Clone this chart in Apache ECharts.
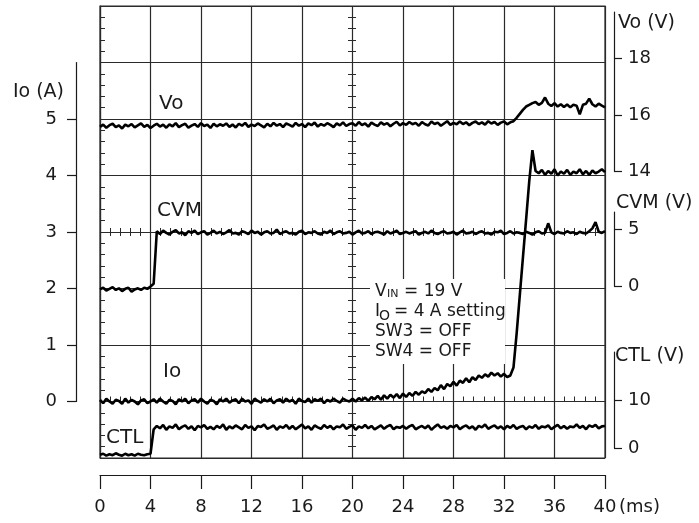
<!DOCTYPE html>
<html>
<head>
<meta charset="utf-8">
<title>Start-up waveforms</title>
<script src="https://cdn.jsdelivr.net/npm/echarts/dist/echarts.min.js"></script>
<style>
html,body{margin:0;padding:0;background:#fff}
#main{width:699px;height:523px}
</style>
</head>
<body>
<div id="main"></div>
<script>
// sample times in ms, one every 0.25 ms
const T = Array.from({length: 161}, (_, i) => i * 0.25);

// Vo (V)
const voData = [
  15.58,15.66,15.55,15.64,15.69,15.57,15.63,15.52,15.66,15.60,15.68,15.56,15.63,15.70,15.58,15.65,15.54,15.62,15.69,15.59,
  15.66,15.55,15.67,15.60,15.71,15.57,15.64,15.69,15.55,15.62,15.68,15.58,15.71,15.61,15.66,15.54,15.69,15.60,15.67,15.62,
  15.70,15.58,15.66,15.56,15.69,15.62,15.72,15.58,15.66,15.61,15.70,15.63,15.56,15.69,15.60,15.72,15.62,15.68,15.57,15.70,
  15.65,15.59,15.72,15.62,15.68,15.57,15.70,15.64,15.73,15.59,15.68,15.62,15.71,15.65,15.57,15.70,15.63,15.74,15.61,15.68,
  15.71,15.62,15.75,15.64,15.70,15.59,15.73,15.66,15.61,15.74,15.66,15.71,15.60,15.69,15.76,15.63,15.71,15.65,15.75,15.67,
  15.72,15.62,15.75,15.67,15.63,15.77,15.68,15.73,15.62,15.70,15.78,15.65,15.72,15.67,15.77,15.68,15.74,15.64,15.72,15.77,
  15.68,15.74,15.66,15.78,15.70,15.75,15.65,15.73,15.77,15.67,15.74,
  15.78,15.90,16.04,16.18,16.30,16.36,16.42,16.46,16.36,16.43,
  16.62,16.40,16.32,16.42,16.30,16.38,16.28,16.37,16.27,16.36,
  16.33,16.02,16.36,16.40,16.58,16.38,16.30,16.40,16.33,16.27
];

// CVM (V)
const cvmData = [
  -0.30,-0.15,-0.40,-0.25,-0.10,-0.35,-0.20,-0.45,-0.25,-0.15,-0.50,-0.30,-0.20,-0.35,-0.15,-0.25,-0.05,0.20,
  4.85,4.60,4.90,4.70,4.55,4.80,4.95,4.65,4.75,4.50,4.85,4.70,4.90,4.60,4.75,4.85,4.55,4.70,4.90,4.65,
  4.80,4.60,4.75,4.95,4.65,4.70,4.55,4.85,4.75,4.60,4.90,4.70,4.80,4.55,4.75,4.85,4.65,4.70,5.00,4.60,
  4.75,4.85,4.65,4.70,4.55,4.80,4.90,4.60,4.75,4.70,4.85,4.65,4.55,4.80,4.70,4.90,4.60,4.75,4.85,4.65,
  4.70,4.80,4.55,4.75,4.90,4.65,4.70,4.85,4.60,4.75,4.80,4.70,4.55,4.85,4.65,4.75,4.90,4.60,4.70,4.80,
  4.65,4.75,4.85,4.55,4.70,4.80,4.65,4.90,4.70,4.60,4.75,4.85,4.65,4.70,4.80,4.55,4.75,4.90,4.65,4.70,
  4.80,4.60,4.75,4.85,4.65,4.70,4.55,4.80,4.75,4.90,4.60,4.70,4.85,4.65,4.75,4.70,4.60,4.80,4.70,4.55,
  4.75,4.85,4.65,4.70,5.55,4.75,4.60,4.80,4.70,4.65,4.85,4.70,4.75,4.60,4.80,4.70,4.65,4.85,5.10,5.65,
  4.80,4.70,4.85
];

// Io (A)
const ioData = [
  0.03,-0.03,0.05,0.00,-0.04,0.03,0.01,-0.04,0.05,-0.02,0.03,0.00,-0.05,0.02,0.04,-0.03,0.00,0.04,-0.02,0.05,
  0.00,-0.04,0.03,0.01,-0.05,0.04,0.00,0.05,-0.03,0.02,0.04,-0.02,0.05,0.00,-0.04,0.03,0.01,-0.05,0.04,0.00,
  0.05,-0.02,0.02,0.04,-0.03,0.05,0.00,0.02,-0.04,0.05,0.01,-0.02,0.04,0.00,0.05,-0.03,0.02,0.04,-0.02,0.05,
  0.00,0.03,-0.04,0.05,0.01,-0.01,0.05,-0.02,0.04,0.01,0.05,-0.03,0.03,0.00,0.05,0.01,-0.02,0.05,0.02,0.00,
  0.05,0.00,0.06,0.02,0.07,0.01,0.08,0.04,0.10,0.03,0.11,0.05,0.12,0.07,0.13,0.06,0.14,0.08,0.15,0.10,
  0.17,0.12,0.18,0.15,0.22,0.17,0.24,0.20,0.29,0.22,0.31,0.27,0.35,0.28,0.37,0.33,0.41,0.34,0.43,0.38,
  0.46,0.42,0.48,0.44,0.51,0.46,0.50,0.44,0.49,0.43,0.46,
  0.60,1.20,1.88,2.55,3.22,3.90,4.45,4.08,
  4.04,4.10,4.01,4.08,4.03,4.11,4.00,4.07,4.03,4.10,4.01,4.07,4.04,4.11,4.02,4.08,4.01,4.09,4.04,4.07,4.11,4.06
];

// CTL (V)
const ctlData = [
  -1.4,-1.2,-1.6,-1.3,-1.5,-1.1,-1.4,-1.6,-1.2,-1.5,-1.3,-1.6,-1.2,-1.4,-1.5,-1.3,-1.2,
  3.9,4.6,4.1,4.8,3.8,4.5,4.2,4.9,3.9,4.4,4.7,4.0,4.5,3.7,4.6,4.3,4.8,4.0,4.4,3.9,
  4.6,4.2,4.9,3.8,4.5,4.1,4.7,4.3,3.9,4.8,4.2,4.5,3.7,4.6,4.4,4.9,4.0,4.3,4.7,3.8,
  4.5,4.2,4.8,4.0,4.6,3.9,4.4,4.9,4.1,4.5,3.8,4.7,4.3,4.0,4.8,4.2,4.6,3.9,4.5,4.3,
  4.9,4.0,4.4,4.7,3.8,4.5,4.2,4.8,4.1,4.6,3.9,4.3,4.7,4.0,4.5,4.8,3.9,4.4,4.2,4.6,
  4.0,4.5,4.8,3.9,4.3,4.6,4.1,4.7,3.8,4.4,4.9,4.2,4.5,4.0,4.6,4.3,4.8,3.9,4.4,4.7,
  4.1,4.5,3.8,4.6,4.3,4.9,4.0,4.4,4.7,4.1,4.5,3.9,4.6,4.2,4.8,4.0,4.4,4.6,3.9,4.5,
  4.2,4.8,4.0,4.5,4.3,4.7,3.9,4.4,4.8,4.1,4.6,4.0,4.5,4.3,4.9,4.2,4.6,3.9,4.7,4.4,
  4.8,4.1,4.5,4.6
];

// tick labels
const timeTicks = [0, 4, 8, 12, 16, 20, 24, 28, 32, 36, 40];
const ioTicks = [0, 1, 2, 3, 4, 5];
const voTicks = [14, 16, 18];
const cvmTicks = [0, 5];
const ctlTicks = [0, 10];

const FONT = "'DejaVu Sans', sans-serif";
const INK = '#1a1a1a';
const GRIDC = '#2a2a2a';

const chart = echarts.init(document.getElementById('main'));

function hiddenX(g) { return {gridIndex: g, type: 'value', show: false, min: 0, max: 1}; }
function hiddenY(g) { return {gridIndex: g, type: 'value', show: false, min: 0, max: 1}; }

// scope-style minor ticks (5 per division)
function minorAxis(g, pos, min, max, interval) {
  return {
    gridIndex: g, type: 'value', position: pos, min: min, max: max, interval: interval,
    axisLine: {show: false},
    axisTick: {show: true, inside: true, length: 4, lineStyle: {color: GRIDC, width: 1}},
    minorTick: {show: true, splitNumber: 5, length: 4, lineStyle: {color: GRIDC, width: 1}},
    axisLabel: {show: false},
    splitLine: {show: false}
  };
}

// short side scales drawn next to the plot
function sideAxis(g, pos, min, max, ticks, tickLen, margin) {
  return {
    gridIndex: g, type: 'value', position: pos, min: min, max: max,
    axisLine: {show: true, lineStyle: {color: INK, width: 1.2}},
    axisTick: {show: true, length: tickLen, customValues: ticks, lineStyle: {color: INK, width: 1.2}},
    axisLabel: {show: true, customValues: ticks, margin: margin, fontSize: 18, fontFamily: FONT, color: INK},
    splitLine: {show: false}
  };
}

const lineBase = {
  type: 'line', showSymbol: false, symbol: 'none', animation: false,
  lineStyle: {color: '#000', width: 2.6}, z: 3
};

function label(text, x, y, size, align) {
  return {type: 'text', x: x, y: y, z: 60,
    style: {text: text, fontSize: size, fontFamily: FONT, fill: INK, align: align || 'left', verticalAlign: 'middle'}};
}

chart.setOption({
  animation: false,
  grid: [
    {left: 100, top: 6, width: 505, height: 452, show: true, borderColor: GRIDC, borderWidth: 1.2}, // 0 plot
    {left: 100, top: 232, width: 505, height: 0},   // 1 centre horizontal ticks
    {left: 352, top: 6, width: 0, height: 452},     // 2 centre vertical ticks
    {left: 76, top: 62.5, width: 0, height: 339},   // 3 Io scale
    {left: 614, top: 12, width: 0, height: 159.5},  // 4 Vo scale
    {left: 614, top: 212, width: 0, height: 74},    // 5 CVM scale
    {left: 614, top: 352, width: 0, height: 96},    // 6 CTL scale
    {left: 100, top: 475, width: 505, height: 0}    // 7 time scale
  ],
  xAxis: [
    {
      gridIndex: 0, type: 'value', position: 'bottom', min: 0, max: 40, interval: 4,
      axisLine: {show: true, lineStyle: {color: GRIDC, width: 1.2}},
      axisTick: {show: true, inside: true, length: 5, lineStyle: {color: GRIDC}},
      minorTick: {show: true, splitNumber: 5, length: 5, lineStyle: {color: GRIDC}},
      axisLabel: {show: false},
      splitLine: {show: true, lineStyle: {color: GRIDC, width: 1.2}}
    },
    minorAxis(1, 'top', 0, 40, 4),
    minorAxis(1, 'bottom', 0, 40, 4),
    hiddenX(2), hiddenX(3), hiddenX(4), hiddenX(5), hiddenX(6),
    {
      gridIndex: 7, type: 'value', position: 'bottom', min: 0, max: 40, interval: 4,
      axisLine: {show: true, lineStyle: {color: INK, width: 1.2}},
      axisTick: {show: true, inside: false, length: 14, customValues: timeTicks, lineStyle: {color: INK, width: 1.2}},
      axisLabel: {show: true, customValues: timeTicks, margin: 23, fontSize: 18, fontFamily: FONT, color: INK},
      splitLine: {show: false}
    }
  ],
  yAxis: [
    { // 0: Io scale of the plot, one division per amp
      gridIndex: 0, type: 'value', position: 'left', min: -1, max: 7, interval: 1,
      axisLine: {show: true, lineStyle: {color: GRIDC, width: 1.2}},
      axisTick: {show: true, inside: true, length: 5, lineStyle: {color: GRIDC}},
      minorTick: {show: true, splitNumber: 5, length: 5, lineStyle: {color: GRIDC}},
      axisLabel: {show: false},
      splitLine: {show: true, lineStyle: {color: GRIDC, width: 1.2}}
    },
    {gridIndex: 0, type: 'value', show: false, min: 3.858, max: 19.858},   // 1 Vo
    {gridIndex: 0, type: 'value', show: false, min: -15.22, max: 24.78},   // 2 CVM
    {gridIndex: 0, type: 'value', show: false, min: -2.083, max: 92.083},  // 3 CTL
    hiddenY(1),
    minorAxis(2, 'left', 0, 8, 1),
    minorAxis(2, 'right', 0, 8, 1),
    sideAxis(3, 'left', 0, 6, ioTicks, 9, 19),
    sideAxis(4, 'right', 14, 19.646, voTicks, 8, 14),
    sideAxis(5, 'right', 0, 6.549, cvmTicks, 8, 14),
    sideAxis(6, 'right', 0, 20, ctlTicks, 8, 14),
    hiddenY(7)
  ],
  series: [
    Object.assign({}, lineBase, {name: 'Vo', xAxisIndex: 0, yAxisIndex: 1, data: T.map((t, i) => [t, voData[i]])}),
    Object.assign({}, lineBase, {name: 'CVM', xAxisIndex: 0, yAxisIndex: 2, data: T.map((t, i) => [t, cvmData[i]])}),
    Object.assign({}, lineBase, {name: 'Io', xAxisIndex: 0, yAxisIndex: 0, data: T.map((t, i) => [t, ioData[i]])}),
    Object.assign({}, lineBase, {name: 'CTL', xAxisIndex: 0, yAxisIndex: 3, data: T.map((t, i) => [t, ctlData[i]])})
  ],
  graphic: [
    // axis titles
    label('Io (A)', 64, 92, 19, 'right'),
    label('Vo (V)', 618, 23, 19),
    label('CVM (V)', 616, 203, 19),
    label('CTL (V)', 615, 356, 19),
    label('(ms)', 619, 507, 18),
    // trace names
    label('Vo', 159, 104, 20),
    label('CVM', 157, 211, 20),
    label('Io', 163, 372, 20),
    label('CTL', 106, 438, 20),
    // test conditions box
    {type: 'rect', z: 50, shape: {x: 370, y: 279, width: 135, height: 85}, style: {fill: '#fff'}},
    label('V', 375, 292, 17),
    label('IN', 387, 294, 11),
    label('= 19 V', 404, 292, 17),
    label('I', 375, 312, 17),
    label('O', 379, 316, 14),
    label('= 4 A setting', 394, 312, 17),
    label('SW3 = OFF', 375, 332, 17),
    label('SW4 = OFF', 375, 352, 17)
  ]
});
</script>
</body>
</html>
